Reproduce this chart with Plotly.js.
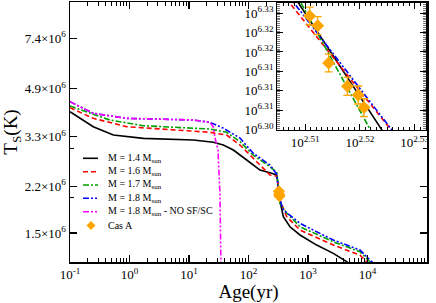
<!DOCTYPE html>
<html><head><meta charset="utf-8">
<script src="https://cdn.plot.ly/plotly-3.0.1.min.js"></script>
<style>html,body{margin:0;padding:0;background:#fff;}#chart{width:436px;height:303px;}</style>
</head><body><div id="chart"></div>
<script>
// ---- data (age in yr, surface temperature in K) ----
const age14 = [0.1, 0.246, 0.535, 1.71, 11.8, 25.6, 37.7, 55.6, 93.3, 156, 245, 298, 318.4, 341.2, 385, 498, 734, 1400, 2661, 4470, 6000];
const temp14 = [4.053e6, 3.584e6, 3.348e6, 3.258e6, 3.214e6, 3.154e6, 3.084e6, 2.961e6, 2.728e6, 2.512e6, 2.446e6, 2.412e6, 2.178e6, 1.934e6, 1.714e6, 1.579e6, 1.476e6, 1.359e6, 1.27e6, 1.186e6, 1.13e6];

const age16 = [0.1, 0.246, 0.897, 6.21, 22.5, 43, 72, 119, 230, 298, 318.4, 341.2, 439, 734, 2661, 7480, 9700, 13000];
const temp16 = [4.187e6, 3.838e6, 3.584e6, 3.487e6, 3.423e6, 3.348e6, 3.084e6, 2.773e6, 2.412e6, 2.388e6, 2.158e6, 1.957e6, 1.714e6, 1.537e6, 1.359e6, 1.252e6, 1.186e6, 1.13e6];

const age17 = [0.1, 0.47, 1.69, 22.5, 43, 72, 119, 230, 298, 318.4, 341.2, 439, 734, 2661, 7480, 11000, 14000];
const temp17 = [4.246e6, 3.786e6, 3.614e6, 3.516e6, 3.423e6, 3.17e6, 2.842e6, 2.582e6, 2.466e6, 2.193e6, 1.901e6, 1.767e6, 1.579e6, 1.396e6, 1.287e6, 1.186e6, 1.14e6];

const age18 = [0.1, 0.246, 0.897, 11.6, 22.5, 37.3, 72, 119, 230, 298, 318.4, 341.2, 385, 734, 2661, 7480, 11770, 15000];
const temp18 = [4.398e6, 3.999e6, 3.838e6, 3.786e6, 3.715e6, 3.546e6, 3.266e6, 2.889e6, 2.618e6, 2.427e6, 2.165e6, 1.956e6, 1.811e6, 1.623e6, 1.416e6, 1.305e6, 1.186e6, 1.14e6];

const age18noSF = [0.1, 0.246, 0.897, 11.6, 22.5, 25.6, 27.4, 30.7, 33.2, 34.1, 34.5];
const temp18noSF = [4.398e6, 3.999e6, 3.838e6, 3.786e6, 3.715e6, 3.584e6, 3.266e6, 2.961e6, 2.047e6, 1.202e6, 1.1e6];

const casAAge = [324.2, 325.3, 326.8, 329.4, 330.9, 331.7];
const casATemp = [2.1155e6, 2.1058e6, 2.0688e6, 2.0461e6, 2.0376e6, 2.0254e6];
const casAErr = [9000, 9000, 8800, 8800, 8700, 8700];

// ---- tick labels ----
const mainXTickVals = [0.1, 1, 10, 100, 1000, 10000, 100000];
const mainXTickText = ['10<sup>-1</sup>', '10<sup>0</sup>', '10<sup>1</sup>', '10<sup>2</sup>', '10<sup>3</sup>', '10<sup>4</sup>', '10<sup>5</sup>'];
const mainYTickVals = [1.5e6, 2.2e6, 3.3e6, 4.9e6, 7.4e6];
const mainYTickText = ['1.5×10<sup>6</sup>', '2.2×10<sup>6</sup>', '3.3×10<sup>6</sup>', '4.9×10<sup>6</sup>', '7.4×10<sup>6</sup>'];
const mainYMinor = [2e6, 3e6];
const insetXTickLogs = [2.51, 2.52, 2.53];
const insetXTickText = ['10<sup>2.51</sup>', '10<sup>2.52</sup>', '10<sup>2.53</sup>'];
const insetYTickLogs = [6.302, 6.306, 6.310, 6.314, 6.318, 6.322, 6.326];
const insetYTickText = ['10<sup>6.30</sup>', '10<sup>6.31</sup>', '10<sup>6.31</sup>', '10<sup>6.31</sup>', '10<sup>6.32</sup>', '10<sup>6.32</sup>', '10<sup>6.33</sup>'];

const labels = ['M = 1.4 M<sub>sun</sub>', 'M = 1.6 M<sub>sun</sub>', 'M = 1.7 M<sub>sun</sub>', 'M = 1.8 M<sub>sun</sub>', 'M = 1.8 M<sub>sun</sub> - NO SF/SC', 'Cas A'];

// ---- styles ----
const series = [
  {x: age14, y: temp14, color: '#000000', dash: 'solid', inset: true},
  {x: age16, y: temp16, color: '#ff0000', dash: '5px,3px', inset: true},
  {x: age17, y: temp17, color: '#00a000', dash: '6px,2px,2px,2px', inset: true},
  {x: age18, y: temp18, color: '#0000ff', dash: '6px,2px,2px,2px,2px,2px', inset: true},
  {x: age18noSF, y: temp18noSF, color: '#ff00ff', dash: '6px,2px,2px,2px,2px,2px', inset: false}
];
const ORANGE = '#ffa500';
const FONT = 'Liberation Serif, Times New Roman, serif';

const traces = [];
series.forEach(s => {
  traces.push({x: s.x, y: s.y, mode: 'lines', xaxis: 'x', yaxis: 'y',
    line: {color: s.color, width: 1.6, dash: s.dash}, hoverinfo: 'skip'});
});
traces.push({x: casAAge, y: casATemp, mode: 'markers', xaxis: 'x', yaxis: 'y',
  marker: {symbol: 'diamond', size: 9, color: ORANGE},
  error_y: {type: 'data', array: casAErr, color: ORANGE, thickness: 1.2, width: 3}});
series.forEach(s => {
  if (!s.inset) return;
  traces.push({x: s.x, y: s.y, mode: 'lines', xaxis: 'x2', yaxis: 'y2',
    line: {color: s.color, width: 1.6, dash: s.dash}, hoverinfo: 'skip'});
});
traces.push({x: casAAge, y: casATemp, mode: 'markers', xaxis: 'x2', yaxis: 'y2',
  marker: {symbol: 'diamond', size: 10, color: ORANGE},
  error_y: {type: 'data', array: casAErr, color: ORANGE, thickness: 1.3, width: 4}});

// minor tick positions
const mainXMinor = [];
for (let e = -1; e < 5; e++) for (let d = 2; d <= 9; d++) mainXMinor.push(d * Math.pow(10, e));
const insetXMinor = [];
for (let k = 2504; k <= 2532; k++) if (k % 10 !== 0) insetXMinor.push(Math.pow(10, k / 1000));
const insetYMinor = [];
for (let k = 63010; k <= 63290; k += 4) insetYMinor.push(Math.pow(10, k / 10000));

const axisCommon = {showline: true, linecolor: '#000', mirror: 'allticks', ticks: 'inside',
  tickcolor: '#000', showgrid: false, zeroline: false, tickmode: 'array'};

// manual legend
const rowsPx = [158.3, 171.7, 185, 198.3, 211.7, 225.5];
const plotTop = 2, plotH = 260, plotL = 70, plotW = 357;
const px2x = p => (p - plotL) / plotW;
const py2y = p => (plotTop + plotH - p) / plotH;
const shapes = [];
const annotations = [];
series.forEach((s, i) => {
  shapes.push({type: 'line', xref: 'paper', yref: 'paper', x0: px2x(83), x1: px2x(98),
    y0: py2y(rowsPx[i]), y1: py2y(rowsPx[i]), line: {color: s.color, width: 1.6, dash: s.dash}});
});
{
  const cx = 91, cy = rowsPx[5], r = 4.5;
  shapes.push({type: 'path', xref: 'paper', yref: 'paper', fillcolor: ORANGE, line: {width: 0},
    path: `M ${px2x(cx)},${py2y(cy - r)} L ${px2x(cx + r)},${py2y(cy)} L ${px2x(cx)},${py2y(cy + r)} L ${px2x(cx - r)},${py2y(cy)} Z`});
}
labels.forEach((t, i) => {
  annotations.push({xref: 'paper', yref: 'paper', x: px2x(106), y: py2y(rowsPx[i]) , xanchor: 'left', yanchor: 'middle',
    text: t, showarrow: false, font: {family: FONT, size: 10, color: '#000'}});
});

const layout = {
  width: 436, height: 303, margin: {l: 70, r: 9, t: 2, b: 41},
  paper_bgcolor: '#fff', plot_bgcolor: '#fff', showlegend: false,
  font: {family: FONT, size: 13, color: '#000'},
  xaxis: Object.assign({}, axisCommon, {type: 'log', range: [-1, 5], domain: [0, 1], anchor: 'y',
    tickvals: mainXTickVals, ticktext: mainXTickText, ticklen: 7, tickwidth: 1.2, linewidth: 1.5,
    tickfont: {family: FONT, size: 13},
    minor: {tickmode: 'array', tickvals: mainXMinor, ticks: 'inside', ticklen: 4, tickcolor: '#000', tickwidth: 1},
    title: {text: 'Age(yr)', font: {family: FONT, size: 19}, standoff: 4}}),
  yaxis: Object.assign({}, axisCommon, {type: 'log', range: [6.073, 6.998], domain: [0, 1], anchor: 'x',
    tickvals: mainYTickVals, ticktext: mainYTickText, ticklen: 7, tickwidth: 1.2, linewidth: 1.5,
    tickfont: {family: FONT, size: 13},
    minor: {tickmode: 'array', tickvals: mainYMinor, ticks: 'inside', ticklen: 4, tickcolor: '#000', tickwidth: 1},
    title: {text: 'T<sub>S</sub>(K)', font: {family: FONT, size: 19}}}),
  xaxis2: Object.assign({}, axisCommon, {type: 'log', range: [2.50486, 2.5320], domain: [0.580, 0.996], anchor: 'y2',
    tickvals: insetXTickLogs.map(v => Math.pow(10, v)), ticktext: insetXTickText, ticklen: 6, tickwidth: 1, linewidth: 1,
    tickfont: {family: FONT, size: 13},
    minor: {tickmode: 'array', tickvals: insetXMinor, ticks: 'inside', ticklen: 3, tickcolor: '#000', tickwidth: 1}}),
  yaxis2: Object.assign({}, axisCommon, {type: 'log', range: [6.3018, 6.3282], domain: [0.506, 0.998], anchor: 'x2',
    tickvals: insetYTickLogs.map(v => Math.pow(10, v)), ticktext: insetYTickText, ticklen: 6, tickwidth: 1, linewidth: 1,
    tickfont: {family: FONT, size: 13},
    minor: {tickmode: 'array', tickvals: insetYMinor, ticks: 'inside', ticklen: 3, tickcolor: '#555', tickwidth: 0.8}}),
  shapes: shapes,
  annotations: annotations
};

Plotly.newPlot('chart', traces, layout, {staticPlot: true, displayModeBar: false});
</script></body></html>
